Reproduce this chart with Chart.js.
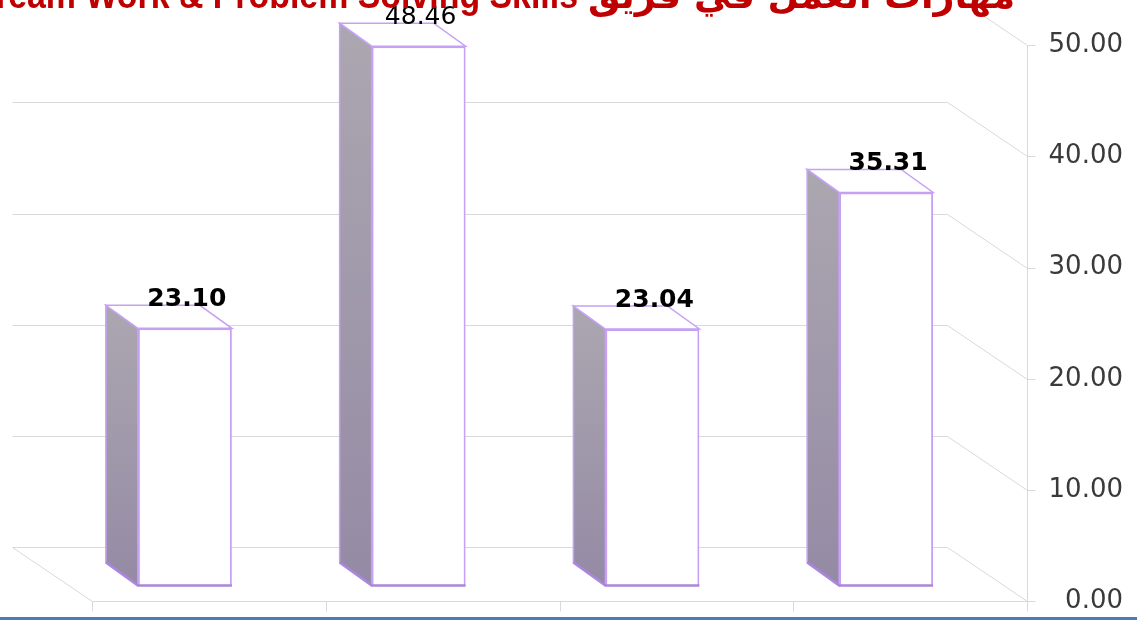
<!DOCTYPE html>
<html lang="en">
<head>
<meta charset="UTF-8" />
<title>Team Work &amp; Problem Solving Skills</title>
<script src="https://cdn.jsdelivr.net/npm/chart.js"></script>
<style>
  html, body { margin: 0; padding: 0; background: #fff; }
  .wrap { position: relative; width: 1137px; height: 617px; }
  .rule { width: 1137px; height: 3px; background: #4a7ebb; }
</style>
</head>
<body>
<div class="wrap"><canvas id="chart"></canvas></div>
<div class="rule"></div>
<script>
const titleEn = "Team Work & Problem Solving Skills";
const titleAr = "مهارات العمل في فريق";
const categories = ["Group 1", "Group 2", "Group 3", "Group 4"];
const scores = [23.10, 48.46, 23.04, 35.31];
const axisTicks = [0, 10, 20, 30, 40, 50];

// fake 3d: offsets from the bar front faces
const FRONT = { dx: 24, dy: 16 };    // floor front edge / axis plane
const WALL = { dx: -80, dy: -54 };   // front plane -> back wall
const DEPTH = { dx: -32, dy: -23 };  // bar depth

function line(ctx, x1, y1, x2, y2) {
  ctx.beginPath();
  ctx.moveTo(Math.round(x1) + 0.5, Math.round(y1) + 0.5);
  ctx.lineTo(Math.round(x2) + 0.5, Math.round(y2) + 0.5);
  ctx.stroke();
}

// draw text squeezed/stretched to a given width
function fitText(ctx, text, left, baseline, width) {
  const w = ctx.measureText(text).width;
  ctx.save();
  ctx.translate(left, baseline);
  ctx.scale(width / w, 1);
  ctx.textAlign = "left";
  ctx.fillText(text, 0, 0);
  ctx.restore();
}

const box3d = {
  id: "box3d",
  beforeDatasetsDraw(chart) {
    const { ctx, chartArea: a, scales: { x, y2 } } = chart;
    ctx.save();
    ctx.strokeStyle = "#d9d9d9";
    ctx.lineWidth = 1;
    const fl = a.left + FRONT.dx, fr = a.right + FRONT.dx;
    const bl = fl + WALL.dx, br = fr + WALL.dx;
    y2.ticks.forEach(t => {
      const yf = y2.getPixelForValue(t.value);
      const yb = yf + WALL.dy;
      line(ctx, bl, yb, br, yb);
      line(ctx, br, yb, fr, yf);
      line(ctx, fr, yf, fr + 8, yf);
    });
    const y0 = y2.getPixelForValue(0);
    line(ctx, bl, y0 + WALL.dy, fl, y0);
    line(ctx, fl, y0, fr, y0);
    line(ctx, fr, y0, fr, y2.getPixelForValue(50));
    for (let i = 0; i <= categories.length; i++) {
      const px = x.getPixelForValue(i - 0.5) + FRONT.dx;
      line(ctx, px, y0, px, y0 + 10);
    }
    ctx.restore();
  },
  afterDatasetsDraw(chart) {
    const { ctx } = chart;
    const bars = chart.getDatasetMeta(0).data;
    ctx.save();
    bars.forEach((bar, i) => {
      const x0 = bar.x - bar.width / 2, x1 = bar.x + bar.width / 2;
      const top = bar.y, bot = bar.base;
      // side face
      const g = ctx.createLinearGradient(0, top + DEPTH.dy, 0, bot);
      g.addColorStop(0, "#aba7b0");
      g.addColorStop(1, "#958aa5");
      ctx.beginPath();
      ctx.moveTo(x0, top);
      ctx.lineTo(x0 + DEPTH.dx, top + DEPTH.dy);
      ctx.lineTo(x0 + DEPTH.dx, bot + DEPTH.dy);
      ctx.lineTo(x0, bot);
      ctx.closePath();
      ctx.fillStyle = g;
      ctx.fill();
      ctx.strokeStyle = "#c6a1f3";
      ctx.lineWidth = 1.5;
      ctx.stroke();
      // top face
      ctx.beginPath();
      ctx.moveTo(x0, top);
      ctx.lineTo(x1, top);
      ctx.lineTo(x1 + DEPTH.dx, top + DEPTH.dy);
      ctx.lineTo(x0 + DEPTH.dx, top + DEPTH.dy);
      ctx.closePath();
      ctx.fillStyle = "#fff";
      ctx.fill();
      ctx.stroke();
      // darker bottom edge
      ctx.strokeStyle = "#aa86dc";
      ctx.lineWidth = 2.5;
      ctx.beginPath();
      ctx.moveTo(x0 + DEPTH.dx, bot + DEPTH.dy);
      ctx.lineTo(x0, bot);
      ctx.lineTo(x1, bot);
      ctx.stroke();
      // value label
      ctx.fillStyle = "#000";
      ctx.textAlign = "center";
      ctx.textBaseline = "alphabetic";
      ctx.font = (i === 1 ? "" : "bold ") + "25px 'DejaVu Sans'";
      ctx.fillText(scores[i].toFixed(2), bar.x + 2, top - 22);
    });
    ctx.restore();
  },
  afterDraw(chart) {
    const { ctx } = chart;
    ctx.save();
    ctx.fillStyle = "#c00000";
    ctx.textBaseline = "alphabetic";
    ctx.font = "bold 38px 'Liberation Sans'";
    fitText(ctx, titleEn, -10, 8, 588);
    ctx.font = "bold 36px 'DejaVu Sans'";
    ctx.direction = "rtl";
    fitText(ctx, titleAr, 588, 8, 427);
    ctx.restore();
  }
};

new Chart(document.getElementById("chart"), {
  type: "bar",
  data: {
    labels: categories,
    datasets: [{
      data: scores,
      backgroundColor: "#ffffff",
      borderColor: "#c6a1f3",
      borderWidth: 2,
      barPercentage: 0.402,
      categoryPercentage: 1
    }]
  },
  options: {
    responsive: true,
    maintainAspectRatio: false,
    animation: false,
    layout: { padding: { left: 68, right: 14, top: 29, bottom: 15 } },
    plugins: { legend: { display: false }, tooltip: { enabled: false } },
    scales: {
      x: { display: false },
      y: { display: false, min: -1.44, max: 50 },
      y2: {
        position: "right",
        min: 0,
        max: 51.44,
        grid: { display: false, drawTicks: false },
        border: { display: false },
        afterBuildTicks: s => { s.ticks = axisTicks.map(v => ({ value: v })); },
        afterFit: s => { s.width = 120; },
        ticks: {
          crossAlign: "far",
          padding: 0,
          color: "#3a3a3a",
          font: { family: "DejaVu Sans", size: 26 },
          callback: v => Number(v).toFixed(2)
        }
      }
    }
  },
  plugins: [box3d]
});
</script>
</body>
</html>
